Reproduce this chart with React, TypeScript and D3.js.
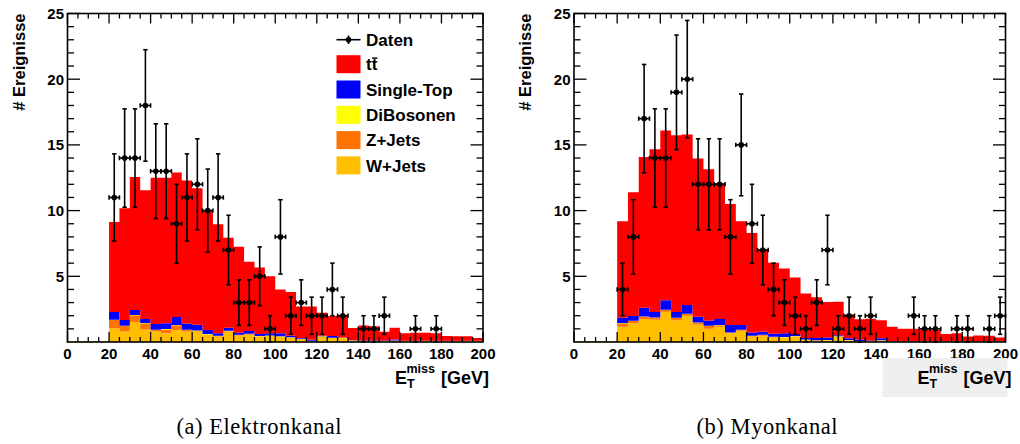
import React from "react";
import * as d3 from "d3";

// ---------- categories (bin low edges, 5 GeV bins) ----------
const binLow = [0, 5, 10, 15, 20, 25, 30, 35, 40, 45, 50, 55, 60, 65, 70, 75, 80, 85, 90, 95,
  100, 105, 110, 115, 120, 125, 130, 135, 140, 145, 150, 155, 160, 165, 170, 175, 180, 185, 190, 195];
const BIN_W = 5;

// ---------- Elektronkanal ----------
const wjetsE = [0.08, 0.08, 0.08, 0.08, 1.04, 0.79, 1.52, 0.96, 0.81, 0.66, 0.91, 0.79, 0.84, 0.53, 0.41, 0.81, 0.50, 0.58, 0.41, 0.46,
  0.40, 0.33, 0.20, 0.05, 0.40, 0.30, 0.30, 0.10, 0.05, 0.05, 0.05, 0.08, 0.05, 0.05, 0.05, 0.05, 0.05, 0.05, 0.05, 0.05];
const zjetsE = [0, 0, 0, 0, 0.63, 0.43, 0.51, 0.46, 0.10, 0.30, 0.36, 0.12, 0.02, 0.05, 0.05, 0.03, 0.04, 0.02, 0.02, 0.02,
  0.02, 0.02, 0.02, 0.02, 0.02, 0.01, 0.01, 0.01, 0.01, 0.01, 0.01, 0.01, 0.01, 0.01, 0.01, 0.01, 0.01, 0.01, 0.01, 0.01];
const dibosonE = [0, 0, 0, 0, 0.02, 0.02, 0.02, 0.02, 0.02, 0.02, 0.02, 0.02, 0.02, 0.02, 0.02, 0.02, 0.02, 0.02, 0.02, 0.02,
  0.02, 0.02, 0.02, 0.02, 0.02, 0.02, 0.02, 0.02, 0.02, 0.02, 0.02, 0.02, 0.02, 0.02, 0.02, 0.02, 0.02, 0.02, 0.02, 0.02];
const singleTopE = [0, 0, 0, 0, 0.59, 0.43, 0.38, 0.31, 0.44, 0.44, 0.61, 0.47, 0.44, 0.31, 0.18, 0.23, 0.14, 0.22, 0.15, 0.16,
  0.22, 0.11, 0.06, 0.09, 0.03, 0.13, 0.02, 0.02, 0.03, 0.03, 0.03, 0.08, 0.02, 0.02, 0.02, 0.02, 0.02, 0.02, 0.02, 0.02];
const ttbarE = [0, 0, 0, 0, 6.86, 8.51, 10.13, 9.80, 11.13, 11.08, 11.00, 10.90, 10.38, 9.09, 8.31, 6.84, 6.55, 5.26, 5.07, 4.34,
  3.34, 3.32, 2.40, 2.52, 1.76, 1.51, 1.65, 0.91, 1.15, 1.09, 0.67, 0.90, 0.56, 0.60, 0.60, 0.56, 0.36, 0.33, 0.33, 0.20];
const datenE = [0, 0, 0, 0, 11, 14, 14, 18, 13, 13, 9, 11, 12, 10, 11, 7, 3, 3, 5, 1,
  8, 2, 3, 2, 2, 4, 2, 0, 1, 1, 2, 0, 0, 1, 0, 1, 0, 0, 0, 0];

// ---------- Myonkanal ----------
const wjetsM = [0.08, 0.08, 0.08, 0.08, 1.16, 1.42, 1.75, 1.70, 2.30, 1.65, 2.00, 1.34, 1.00, 1.16, 0.68, 0.86, 0.41, 0.48, 0.35, 0.35,
  0.41, 0.15, 0.10, 0.12, 0.41, 0.12, 0.05, 0.05, 0.10, 0.03, 0.03, 0.03, 0.03, 0.03, 0.03, 0.03, 0.03, 0.03, 0.03, 0.03];
const zjetsM = [0, 0, 0, 0, 0.26, 0.18, 0.17, 0.15, 0.13, 0.17, 0.13, 0.13, 0.21, 0.11, 0.03, 0.05, 0.05, 0.05, 0.03, 0.02,
  0.02, 0.02, 0.02, 0.01, 0.01, 0.01, 0.01, 0.01, 0.01, 0.01, 0.01, 0.01, 0.01, 0.01, 0.01, 0.01, 0.01, 0.01, 0.01, 0.01];
const dibosonM = [0, 0, 0, 0, 0.02, 0.02, 0.02, 0.02, 0.02, 0.02, 0.02, 0.02, 0.02, 0.02, 0.02, 0.02, 0.02, 0.02, 0.02, 0.02,
  0.02, 0.02, 0.02, 0.02, 0.02, 0.02, 0.02, 0.02, 0.02, 0.02, 0.02, 0.02, 0.02, 0.02, 0.02, 0.02, 0.02, 0.02, 0.02, 0.02];
const singleTopM = [0, 0, 0, 0, 0.41, 0.35, 0.66, 0.41, 0.72, 0.44, 0.66, 0.44, 0.40, 0.46, 0.56, 0.36, 0.25, 0.23, 0.23, 0.27,
  0.15, 0.11, 0.16, 0.19, 0.08, 0.14, 0.11, 0.03, 0.16, 0.02, 0.02, 0.02, 0.02, 0.02, 0.02, 0.02, 0.02, 0.02, 0.02, 0.02];
const ttbarM = [0, 0, 0, 0, 7.34, 9.43, 11.48, 12.39, 12.93, 13.45, 12.99, 12.03, 11.52, 10.35, 9.21, 7.90, 7.57, 6.26, 5.40, 4.94,
  4.30, 3.40, 3.10, 2.71, 2.55, 1.80, 1.55, 1.65, 1.37, 1.08, 0.92, 0.92, 0.88, 0.83, 0.53, 0.58, 0.33, 0.42, 0.40, 0.27];
const datenM = [0, 0, 0, 0, 4, 8, 17, 14, 14, 19, 20, 12, 12, 12, 8, 15, 9, 7, 4, 3,
  2, 1, 3, 7, 1, 2, 1, 2, 0, 0, 0, 2, 1, 1, 0, 1, 1, 0, 1, 2];

// ---------- axes / legend texts ----------
const xTicksMajor = [0, 20, 40, 60, 80, 100, 120, 140, 160, 180, 200];
const yTicksMajor = [5, 10, 15, 20, 25];
const X_DOMAIN: [number, number] = [0, 200];
const Y_DOMAIN: [number, number] = [0, 25];
const yTitle = "# Ereignisse";
const captionE = "(a) Elektronkanal";
const captionM = "(b) Myonkanal";

const layerKeys = ["w", "z", "d", "s", "tt"];
const layerColors: Record<string, string> = {
  w: "#ffbf00",
  z: "#ff7300",
  d: "#ffff00",
  s: "#0000ff",
  tt: "#ff0000",
};
const legendEntries = [
  { key: "tt", label: "tt" },
  { key: "s", label: "Single-Top" },
  { key: "d", label: "DiBosonen" },
  { key: "z", label: "Z+Jets" },
  { key: "w", label: "W+Jets" },
];

const SANS = "'Liberation Sans', Arial, Helvetica, sans-serif";
const SERIF = "'Liberation Serif', 'Times New Roman', serif";

const Y_BOTTOM = 342;
const Y_TOP = 13.5;

type PanelProps = {
  x0: number;
  x1: number;
  w: number[];
  z: number[];
  d: number[];
  s: number[];
  tt: number[];
  data: number[];
  legend?: boolean;
  grayTitle?: boolean;
};

function Panel({ x0, x1, w, z, d, s, tt, data, legend, grayTitle }: PanelProps) {
  const x = d3.scaleLinear().domain(X_DOMAIN).range([x0, x1]);
  const y = d3.scaleLinear().domain(Y_DOMAIN).range([Y_BOTTOM, Y_TOP]);

  const rows = binLow.map((lo, i) => ({ lo, w: w[i], z: z[i], d: d[i], s: s[i], tt: tt[i] }));
  const series = d3.stack<any>().keys(layerKeys)(rows);

  const area = d3
    .area<any>()
    .x((p) => x(p.x))
    .y0((p) => y(p.y0))
    .y1((p) => y(p.y1))
    .curve(d3.curveStepAfter);

  const layerPaths = series.map((ser) => {
    const pts = ser.map((seg: any, i: number) => ({ x: binLow[i], y0: seg[0], y1: seg[1] }));
    const last = ser[ser.length - 1];
    pts.push({ x: binLow[binLow.length - 1] + BIN_W, y0: last[0], y1: last[1] });
    return { key: ser.key, d: area(pts) || "" };
  });

  const xMinor = d3.range(0, 201, 5).filter((v) => v % 20 !== 0);
  const yMinor = d3.range(0, 26, 1).filter((v) => v % 5 !== 0);

  const XMAJ = 10, XMIN = 5, YMAJ = 12.5, YMIN = 6.5;
  const cap = 2.2;

  return (
    <g>
      {/* stacked histograms */}
      {layerPaths.map((p) => (
        <path key={p.key} d={p.d} fill={layerColors[p.key]} stroke="none" />
      ))}

      {/* data points */}
      {data.map((n, i) => {
        if (n <= 0) return null;
        const c = binLow[i] + BIN_W / 2;
        const cx = x(c);
        const cy = y(n);
        const e = Math.sqrt(n);
        const yt = y(n + e);
        const yb = y(Math.max(0, n - e));
        const xl = x(binLow[i]);
        const xr = x(binLow[i] + BIN_W);
        return (
          <g key={i} stroke="#000" strokeWidth={1.6}>
            <line x1={cx} x2={cx} y1={yt} y2={yb} />
            <line x1={xl} x2={xr} y1={cy} y2={cy} />
            <line x1={cx - cap} x2={cx + cap} y1={yt} y2={yt} />
            <line x1={cx - cap} x2={cx + cap} y1={yb} y2={yb} />
            <line x1={xl} x2={xl} y1={cy - cap} y2={cy + cap} />
            <line x1={xr} x2={xr} y1={cy - cap} y2={cy + cap} />
            <circle cx={cx} cy={cy} r={2.8} fill="#000" stroke="none" />
          </g>
        );
      })}

      {/* frame */}
      <rect x={x0} y={Y_TOP} width={x1 - x0} height={Y_BOTTOM - Y_TOP} fill="none" stroke="#000" strokeWidth={1.6} />

      {/* ticks */}
      <g stroke="#000" strokeWidth={1.3}>
        {xTicksMajor.map((v) => (
          <g key={"xM" + v}>
            <line x1={x(v)} x2={x(v)} y1={Y_BOTTOM} y2={Y_BOTTOM - XMAJ} />
            <line x1={x(v)} x2={x(v)} y1={Y_TOP} y2={Y_TOP + XMAJ} />
          </g>
        ))}
        {xMinor.map((v) => (
          <g key={"xm" + v}>
            <line x1={x(v)} x2={x(v)} y1={Y_BOTTOM} y2={Y_BOTTOM - XMIN} />
            <line x1={x(v)} x2={x(v)} y1={Y_TOP} y2={Y_TOP + XMIN} />
          </g>
        ))}
        {yTicksMajor.map((v) => (
          <g key={"yM" + v}>
            <line x1={x0} x2={x0 + YMAJ} y1={y(v)} y2={y(v)} />
            <line x1={x1} x2={x1 - YMAJ} y1={y(v)} y2={y(v)} />
          </g>
        ))}
        {yMinor.map((v) => (
          <g key={"ym" + v}>
            <line x1={x0} x2={x0 + YMIN} y1={y(v)} y2={y(v)} />
            <line x1={x1} x2={x1 - YMIN} y1={y(v)} y2={y(v)} />
          </g>
        ))}
      </g>

      {/* tick labels */}
      <g fontFamily={SANS} fontWeight="bold" fontSize={15} fill="#000">
        {xTicksMajor.map((v) => (
          <text key={"xl" + v} x={x(v)} y={359} textAnchor="middle">
            {v}
          </text>
        ))}
        {yTicksMajor.map((v) => (
          <text key={"yl" + v} x={x0 - 3.5} y={y(v) + 5.5} textAnchor="end">
            {v}
          </text>
        ))}
      </g>

      {/* y title */}
      <text
        transform={`translate(${x0 - 43},${Y_TOP}) rotate(-90)`}
        textAnchor="end"
        fontFamily={SANS}
        fontWeight="bold"
        fontSize={16.5}
      >
        {yTitle}
      </text>

      {/* x title */}
      {grayTitle && <rect x={x1 - 123} y={358} width={125} height={39} fill="#efefef" />}
      <g fontFamily={SANS} fontWeight="bold" fill="#000">
        <text x={x1 - 88} y={383.5} fontSize={18}>E</text>
        <text x={x1 - 76} y={388} fontSize={12.5}>T</text>
        <text x={x1 - 76.5} y={373} fontSize={12.5}>miss</text>
        <text x={x1 + 6} y={383.5} fontSize={18} textAnchor="end">[GeV]</text>
      </g>

      {/* legend */}
      {legend && (
        <g fontFamily={SANS} fontWeight="bold" fontSize={17}>
          <g stroke="#000" strokeWidth={1.6}>
            <line x1={336.5} x2={360.5} y1={39.7} y2={39.7} />
            <line x1={348.5} x2={348.5} y1={35.5} y2={44} />
            <circle cx={348.5} cy={39.7} r={2.8} fill="#000" stroke="none" />
          </g>
          <text x={366} y={39.7 + 6.2}>Daten</text>
          {legendEntries.map((en, i) => {
            const cy = 64.2 + i * 25.3;
            return (
              <g key={en.key}>
                <rect x={336.5} y={cy - 9} width={24} height={18} fill={layerColors[en.key]} />
                <text x={366} y={cy + 6.2}>{en.label}</text>
                {en.key === "tt" && (
                  <line x1={372} x2={377.5} y1={cy + 6.2 - 12.3} y2={cy + 6.2 - 12.3} stroke="#000" strokeWidth={1.4} />
                )}
              </g>
            );
          })}
        </g>
      )}
    </g>
  );
}

export default function App() {
  return (
    <svg
      width={1020}
      height={444}
      viewBox="0 0 1020 444"
      style={{ position: "absolute", left: 0, top: 0, background: "#fff" }}
    >
      <rect x={0} y={0} width={1020} height={444} fill="#fff" />
      <Panel x0={67.5} x1={483} w={wjetsE} z={zjetsE} d={dibosonE} s={singleTopE} tt={ttbarE} data={datenE} legend />
      <Panel x0={574} x1={1005.5} w={wjetsM} z={zjetsM} d={dibosonM} s={singleTopM} tt={ttbarM} data={datenM} grayTitle />
      <text x={259} y={433.5} textAnchor="middle" fontFamily={SERIF} fontSize={22.5} textLength={165} lengthAdjust="spacing">
        {captionE}
      </text>
      <text x={767} y={433.5} textAnchor="middle" fontFamily={SERIF} fontSize={22.5} textLength={141} lengthAdjust="spacing">
        {captionM}
      </text>
    </svg>
  );
}
